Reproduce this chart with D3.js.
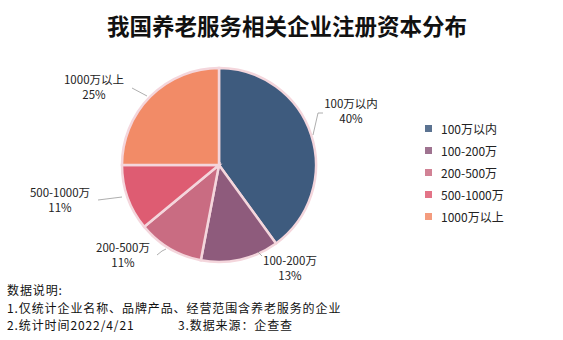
<!DOCTYPE html>
<html><head><meta charset="utf-8">
<script src="https://cdn.jsdelivr.net/npm/d3@7"></script>
<style>
body{margin:0;background:#fff;}
svg{display:block;font-family:"Noto Sans CJK SC","Microsoft YaHei",sans-serif;}
</style></head>
<body><svg id="c" width="563" height="340"></svg>
<script>
const categories = ["100万以内","100-200万","200-500万","500-1000万","1000万以上"];
const values = [40,13,11,11,25];
const colors = ["#3e5b7e","#8e5b7c","#c96c82","#de5c72","#f28b67"];
const labelPos = [[351,104],[290,261],[123,248],[60,193],[94,80]];
const footer = ["数据说明:","1.仅统计企业名称、品牌产品、经营范围含养老服务的企业","2.统计时间2022/4/21"];

const svg = d3.select("#c");
svg.append("text").attr("x",287).attr("y",35).attr("text-anchor","middle")
  .attr("font-size",22.5).attr("font-weight","bold").attr("fill","#111")
  .text("我国养老服务相关企业注册资本分布");

const cx=219, cy=165, r=97;
const pie = d3.pie().sort(null).value(d=>d);
const arcs = pie(values);
const arc = d3.arc().innerRadius(0).outerRadius(r);
const g = svg.append("g").attr("transform",`translate(${cx},${cy})`);
g.selectAll("path").data(arcs).join("path")
  .attr("d",arc).attr("fill",(d,i)=>colors[i])
  .attr("stroke","#f4d6dc").attr("stroke-width",2.5);

// leader lines
const leaders = [
  [[313,135],[318,113],[323,113]],
  [[258,252],[262,256]],
  [[157,255],[162,251],[166,249]],
  [[98,200],[122,197]],
  [[132,88],[147,96]]
];
leaders.forEach(pts=>{
  svg.append("path").attr("d",d3.line()(pts)).attr("fill","none")
    .attr("stroke","#999").attr("stroke-width",0.8);
});

labelPos.forEach((p,i)=>{
  const t = svg.append("text").attr("text-anchor","middle").attr("font-size",11.5).attr("fill","#222");
  t.append("tspan").attr("x",p[0]).attr("y",p[1]+4).text(categories[i]);
  t.append("tspan").attr("x",p[0]).attr("y",p[1]+19).text(values[i]+"%");
});

// legend
const ly = [129,151,173,195,217];
categories.forEach((c,i)=>{
  svg.append("rect").attr("x",425).attr("y",ly[i]-4).attr("width",7).attr("height",7)
    .attr("fill",colors[i]).attr("opacity",0.85);
  svg.append("text").attr("x",441).attr("y",ly[i]+4.5).attr("font-size",12).attr("fill","#222").text(c);
});

// footer
const fy=[295,312.5,330];
footer.forEach((s,i)=>{
  svg.append("text").attr("x",7).attr("y",fy[i]).attr("font-size",12).attr("letter-spacing",0.9)
    .attr("fill","#111").text(s);
});
svg.append("text").attr("x",178).attr("y",330).attr("font-size",12).attr("letter-spacing",0.9)
  .attr("fill","#111").text("3.数据来源：企查查");
</script></body></html>
